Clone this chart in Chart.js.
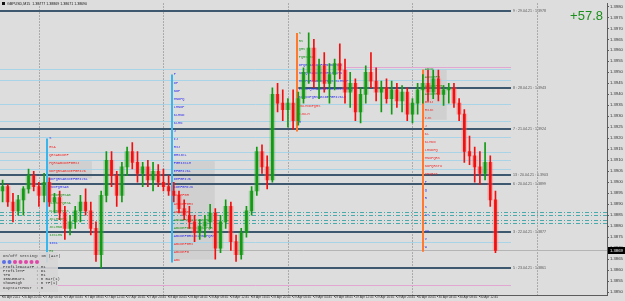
<!DOCTYPE html>
<html lang="en">
<head>
<meta charset="UTF-8">
<title>GBPUSD,M15</title>
<script src="https://cdn.jsdelivr.net/npm/chart.js"></script>
<style>
  html, body { margin: 0; padding: 0; background: #dddddd; }
  canvas { display: block; }
</style>
</head>
<body>
<canvas id="chart" width="625" height="301"></canvas>
<script>
// hourly candles, 26 Apr 16:45 .. 30 Apr 15:45
const opens = [
  1.3896,1.3898,1.3891,1.3887,1.3892,1.3897,1.3903,1.3898,1.3894,1.3900,
  1.3891,1.3893,1.3886,1.3879,1.3882,1.3887,1.3891,1.3887,1.3879,1.3867,
  1.3894,1.3910,1.3903,1.3894,1.3907,1.3914,1.3909,1.3904,1.3907,1.3901,
  1.3905,1.3900,1.3898,1.3896,1.3894,1.3888,1.3885,1.3882,1.3877,1.3880,
  1.3882,1.3886,1.3870,1.3882,1.3889,1.3873,1.3867,1.3877,1.3887,1.3896,
  1.3914,1.3907,1.3901,1.3940,1.3936,1.3933,1.3936,1.3928,1.3938,1.3950,
  1.3961,1.3946,1.3953,1.3945,1.3949,1.3954,1.3951,1.3941,1.3945,1.3932,
  1.3940,1.3950,1.3946,1.3941,1.3943,1.3938,1.3942,1.3937,1.3941,1.3931,
  1.3936,1.3942,1.3945,1.3941,1.3947,1.3940,1.3942,1.3943,1.3936,1.3931,
  1.3914,1.3912,1.3907,1.3904,1.3909,1.3892
];
const highs = [
  1.3901,1.3899,1.3895,1.3894,1.3898,1.3906,1.3905,1.3900,1.3904,1.3902,
  1.3895,1.3896,1.3889,1.3885,1.3889,1.3894,1.3897,1.3891,1.3882,1.3896,
  1.3914,1.3914,1.3905,1.3909,1.3916,1.3918,1.3914,1.3909,1.3910,1.3909,
  1.3908,1.3906,1.3903,1.3900,1.3896,1.3892,1.3889,1.3885,1.3883,1.3885,
  1.3890,1.3888,1.3885,1.3892,1.3891,1.3876,1.3879,1.3889,1.3898,1.3916,
  1.3917,1.3912,1.3943,1.3945,1.3942,1.3938,1.3942,1.3941,1.3952,1.3968,
  1.3965,1.3956,1.3959,1.3954,1.3956,1.3963,1.3956,1.3950,1.3947,1.3943,
  1.3953,1.3959,1.3952,1.3946,1.3947,1.3946,1.3945,1.3944,1.3943,1.3938,
  1.3945,1.3949,1.3951,1.3951,1.3951,1.3944,1.3945,1.3945,1.3938,1.3933,
  1.3921,1.3916,1.3914,1.3918,1.3912,1.3896
];
const lows = [
  1.3891,1.3889,1.3882,1.3885,1.3885,1.3895,1.3896,1.3889,1.3891,1.3889,
  1.3886,1.3883,1.3874,1.3876,1.3879,1.3882,1.3885,1.3876,1.3864,1.3861,
  1.3891,1.3898,1.3889,1.3891,1.3903,1.3906,1.3900,1.3898,1.3898,1.3896,
  1.3898,1.3896,1.3894,1.3891,1.3886,1.3883,1.3879,1.3873,1.3874,1.3875,
  1.3879,1.3865,1.3868,1.3879,1.3869,1.3864,1.3865,1.3875,1.3885,1.3894,
  1.3904,1.3897,1.3900,1.3932,1.3928,1.3925,1.3924,1.3926,1.3936,1.3945,
  1.3943,1.3938,1.3941,1.3936,1.3942,1.3947,1.3936,1.3934,1.3928,1.3927,
  1.3936,1.3943,1.3937,1.3932,1.3936,1.3931,1.3934,1.3932,1.3928,1.3927,
  1.3931,1.3936,1.3937,1.3938,1.3937,1.3935,1.3936,1.3934,1.3928,1.3909,
  1.3908,1.3900,1.3899,1.3901,1.3889,1.3868
];
const closes = [
  1.3898,1.3891,1.3887,1.3892,1.3897,1.3903,1.3898,1.3894,1.3900,1.3891,
  1.3893,1.3886,1.3879,1.3882,1.3887,1.3891,1.3887,1.3879,1.3867,1.3894,
  1.3910,1.3903,1.3894,1.3907,1.3914,1.3909,1.3904,1.3907,1.3901,1.3905,
  1.3900,1.3898,1.3896,1.3894,1.3888,1.3885,1.3882,1.3877,1.3880,1.3882,
  1.3886,1.3870,1.3882,1.3889,1.3873,1.3867,1.3877,1.3887,1.3896,1.3914,
  1.3907,1.3901,1.3940,1.3936,1.3933,1.3936,1.3928,1.3938,1.3950,1.3961,
  1.3946,1.3953,1.3945,1.3949,1.3954,1.3951,1.3941,1.3945,1.3932,1.3940,
  1.3950,1.3946,1.3941,1.3943,1.3938,1.3942,1.3937,1.3941,1.3931,1.3936,
  1.3942,1.3945,1.3941,1.3947,1.3940,1.3942,1.3943,1.3936,1.3931,1.3914,
  1.3912,1.3907,1.3904,1.3909,1.3892,1.3869
];

const timeTicks = [
  "26 Apr 2021","26 Apr 20:45","27 Apr 00:45","27 Apr 04:45","27 Apr 08:45","27 Apr 12:45",
  "27 Apr 16:45","27 Apr 20:45","28 Apr 00:45","28 Apr 04:45","28 Apr 08:45","28 Apr 12:45",
  "28 Apr 16:45","28 Apr 20:45","29 Apr 00:45","29 Apr 04:45","29 Apr 08:45","29 Apr 12:45",
  "29 Apr 16:45","29 Apr 20:45","30 Apr 00:45","30 Apr 04:45","30 Apr 08:45","30 Apr 12:45"
];
const priceTicks = [
  1.3980,1.3975,1.3970,1.3965,1.3960,1.3955,1.3950,1.3945,1.3940,1.3935,1.3930,1.3925,1.3920,
  1.3915,1.3910,1.3905,1.3900,1.3895,1.3890,1.3885,1.3880,1.3875,1.3870,1.3865,1.3860,1.3855,1.3850
];
const currentPrice = 1.3869;

// levels drawn by the indicators
const darkLevels = [1.39777, 1.39428, 1.39244, 1.39033, 1.38993, 1.38774, 1.38612];
const darkLabels = ["9 : 29.04.21 : 1.3978", "8 : 28.04.21 : 1.3943", "7 : 21.04.21 : 1.3924",
                    "13 : 20.04.21 : 1.3903", "6 : 20.04.21 : 1.3899", "3 : 22.04.21 : 1.3877",
                    "5 : 23.04.21 : 1.3861"];
const darkFrom = [0, 57, 0, 0, 0, 0, 0];
const lightLevels = [1.39517, 1.39464, 1.39356, 1.39280, 1.39204, 1.39137, 1.39101, 1.39060, 1.38729];
const dashLevels = [1.38863, 1.38852, 1.38827, 1.38816];
const pinkLevels = [1.38532, 1.39526];
const pinkFrom = [0, 66];
const daySeps = [7, 31, 55, 79, 103];

// market profile sessions
const profileAt = [8.6, 32.6, 56.7, 81];
const profileHigh = [1.39199, 1.39490, 1.39679, 1.39513];
const profileLow = [1.38635, 1.38635, 1.39231, 1.38684];
const boxFrom = [8.7, 32.8, 81];
const boxTo = [17.2, 40.9, 85.6];
const boxHigh = [1.39096, 1.39096, 1.39513];
const boxLow = [1.39016, 1.38648, 1.39284];
const tpoRows = [
  ["S","RSA","QRSABCDEF","PQRSABCDEFGHIJ","NOPQRSABCDEFGHIJK","NOPQRSABCDEFGHIJKL","MNOPQRSAB",
   "LMNOPQRSAB","KLMNOPQRSA","KLMNOPQRS","JKLMNOPQ","JKLMNO","IJKLMN","IJKL","HI","GH","F"],
  ["P","OP","NOP","MNOPQ","LMNOP","KLMNO","KLMN","J","IJ","HIJ","GHIJKL","FGHIJKLM","EFGHIJKL",
   "DEFGHIJK","CDEFGHIJK","BCDEFGH","ABCDEFGHI","ABCDEFG","ABCDEFGHIJKLMNOPQ","ABCDEFGHIJKLMNOPQR",
   "ABCDEFGHIJKLMNOPQRS","ABCDEFGHI","ABCDEFG","ABC"],
  ["S","RS","QRS","PQRSABC","OPQRSABCDEFGHIJKLMNO","NOPQRSABCDEFGHIJKLMN","MNOPQRSABCDEFGHIJKLMNOP",
   "LMNOPQRSABCDEFGHIJKLMNOPQ","KLMNOPQRSABCDEFGHIJKLM","JKLMNOPQRS","IJKLM","H"],
  ["ABCD","ABCDEFG","ABCDEFGHI","ABCDEF","GHIJ","HIJK","IJK","J","KL","KLMNO","LMNOPQ","MNOPQRS",
   "NOPQRSTU","OPQRST","P","Q","R","S","ST","T","UV","V","W"]
];
const tpoColors = [
  "bRRRRbbggggggbgRRRR",
  "bbbbbbbbbbbbbbbRRRggbRRR",
  "ggggbbbbbRRb",
  "ggggRRRRRRRRRRbbbbbbbbb"
];

const panelKeys = ["ProfileDataTF", "ProfileTF", "TPO", "IBNumBars", "ShowHigh", "DayStartHour"];
const panelVals = ["M1", "D1", "M1", "0 Bar(1)", "0 TF(1)", "0"];

const BULL = '#139a13', BEAR = '#f20f0f';
const up = opens.map((o, i) => closes[i] >= o);
const labels = [];
for (let i = 0; i < opens.length + 21; i++) labels.push(String(i));

const colorOf = { b: '#2b2bee', R: '#ee2a2a', g: '#1f951f' };

function hline(c, x0, x1, py, color, w, dash) {
  c.beginPath();
  c.strokeStyle = color;
  c.lineWidth = w;
  c.setLineDash(dash || []);
  const yy = Math.round(py) + (w % 2 ? 0.5 : 0);
  c.moveTo(x0, yy);
  c.lineTo(x1, yy);
  c.stroke();
}
function vline(c, px, y0, y1, color, w, dash) {
  c.beginPath();
  c.strokeStyle = color;
  c.lineWidth = w;
  c.setLineDash(dash || []);
  const xx = Math.round(px) + (w % 2 ? 0.5 : 0);
  c.moveTo(xx, y0);
  c.lineTo(xx, y1);
  c.stroke();
}

const overlay = {
  id: 'overlay',
  beforeDraw(chart) {
    const c = chart.ctx;
    c.save();
    c.fillStyle = '#dddddd';
    c.fillRect(0, 0, chart.width, chart.height);
    c.restore();
  },
  beforeDatasetsDraw(chart) {
    const { ctx: c, chartArea: a, scales: { x, y } } = chart;
    const lineEnd = x.getPixelForValue(98);
    c.save();

    // value area boxes
    c.fillStyle = 'rgba(0,0,0,0.06)';
    boxFrom.forEach((f, i) => {
      const x0 = x.getPixelForValue(f), x1 = x.getPixelForValue(boxTo[i]);
      const y0 = y.getPixelForValue(boxHigh[i]), y1 = y.getPixelForValue(boxLow[i]);
      c.fillRect(x0, y0, x1 - x0, y1 - y0);
    });

    // day separators
    daySeps.forEach(d => vline(c, x.getPixelForValue(d), a.top, a.bottom, '#7a7a7a', 1, [1, 2]));

    lightLevels.forEach(p => hline(c, a.left, lineEnd, y.getPixelForValue(p), '#a9d3e6', 1));
    pinkLevels.forEach((p, i) => hline(c, x.getPixelForValue(pinkFrom[i]) - (pinkFrom[i] ? 0 : 3), lineEnd, y.getPixelForValue(p), '#e2a6d2', 1));
    dashLevels.forEach(p => hline(c, a.left, a.right, y.getPixelForValue(p), '#4aa9aa', 1, [4, 2, 1, 2]));
    hline(c, a.left, a.right, y.getPixelForValue(currentPrice), '#b4b4b4', 1);
    darkLevels.forEach((p, i) => hline(c, darkFrom[i] ? x.getPixelForValue(darkFrom[i]) : a.left, lineEnd, y.getPixelForValue(p), '#3e5870', 2));

    // profile start lines
    profileAt.forEach((v, i) => {
      vline(c, x.getPixelForValue(v), y.getPixelForValue(profileHigh[i]), y.getPixelForValue(profileLow[i]),
            i < 2 ? '#39b6ec' : '#ff7a2e', 2);
    });

    // TPO letters
    c.font = '3.6px "Liberation Mono"';
    c.textBaseline = 'middle';
    c.textAlign = 'left';
    const rowStep = 0.000367;
    tpoRows.forEach((rows, k) => {
      const px = x.getPixelForValue(profileAt[k]) + 2;
      rows.forEach((s, r) => {
        c.fillStyle = colorOf[tpoColors[k][r]] || '#2b2bee';
        c.fillText(s, px, y.getPixelForValue(profileHigh[k] - r * rowStep));
      });
    });

    // level captions
    c.font = '3.6px "Liberation Sans"';
    c.fillStyle = '#555';
    darkLevels.forEach((p, i) => c.fillText(darkLabels[i], lineEnd + 2, y.getPixelForValue(p)));
    c.restore();
  },
  afterDraw(chart) {
    const { ctx: c, chartArea: a, scales: { x, y } } = chart;
    c.save();
    // small marks on the time axis, one per label
    c.strokeStyle = '#5c5c5c';
    c.lineWidth = 1;
    timeTicks.forEach((t, i) => {
      const px = Math.round(x.getPixelForValue(i * 4)) - 0.5;
      c.beginPath();
      c.moveTo(px, a.bottom);
      c.lineTo(px, a.bottom + 2);
      c.stroke();
    });

    // title
    c.fillStyle = '#111';
    c.fillRect(2, 2, 3, 3);
    c.font = '3.6px "Liberation Sans"';
    c.textBaseline = 'middle';
    c.fillText('GBPUSD,M15  1.38777 1.38869 1.38671 1.38690', 7, 4);

    // profit label
    c.font = '13px "Liberation Sans"';
    c.textAlign = 'right';
    c.textBaseline = 'alphabetic';
    c.fillStyle = '#1b8f1b';
    c.fillText('+57.8', 603, 20);

    // current price marker on axis
    const py = Math.round(y.getPixelForValue(currentPrice));
    c.fillStyle = '#000';
    c.fillRect(a.right + 1, py - 3, 18, 7);
    c.fillStyle = '#fff';
    c.font = '4.2px "Liberation Sans"';
    c.textAlign = 'left';
    c.textBaseline = 'middle';
    c.fillText(currentPrice.toFixed(4), a.right + 3, py + 0.5);

    // settings panel
    c.fillStyle = 'rgba(214,214,214,0.9)';
    c.fillRect(0, 252, 58, 40);
    c.fillStyle = '#333';
    c.font = '4px "Liberation Mono"';
    c.fillText('On/Off Setting: On (ALT)', 3, 256);
    ['#5b6fe6', '#5b6fe6', '#e046a8', '#e046a8', '#e046a8', '#e046a8', '#e046a8'].forEach((col, i) => {
      c.beginPath();
      c.fillStyle = col;
      c.arc(4 + i * 5.5, 262, 2, 0, Math.PI * 2);
      c.fill();
    });
    c.fillStyle = '#333';
    panelKeys.forEach((k, i) => {
      c.fillText(k, 3, 267 + i * 4.1);
      c.fillText(': ' + panelVals[i], 36, 267 + i * 4.1);
    });
    c.restore();
  }
};

new Chart(document.getElementById('chart'), {
  type: 'bar',
  data: {
    labels: labels,
    datasets: [
      {
        data: lows.map((l, i) => [l, highs[i]]),
        backgroundColor: up.map(u => u ? BULL : BEAR),
        barThickness: 1,
        grouped: false,
        order: 3
      },
      {
        data: opens.map((o, i) => [o, closes[i]]),
        backgroundColor: up.map(u => u ? 'rgba(70,170,70,0.35)' : 'rgba(255,110,110,0.35)'),
        barThickness: 5,
        grouped: false,
        order: 2
      },
      {
        data: opens.map((o, i) => [o, closes[i]]),
        backgroundColor: up.map(u => u ? BULL : BEAR),
        barThickness: 2,
        minBarLength: 1,
        grouped: false,
        order: 1
      }
    ]
  },
  options: {
    responsive: false,
    animation: false,
    devicePixelRatio: 1,
    layout: { padding: 0 },
    plugins: { legend: { display: false }, tooltip: { enabled: false } },
    scales: {
      x: {
        type: 'category',
        offset: true,
        grid: { display: false, drawTicks: false, tickLength: 0 },
        border: { display: true, color: '#5c5c5c' },
        ticks: {
          autoSkip: false,
          maxRotation: 0,
          minRotation: 0,
          align: 'start',
          padding: 0.5,
          color: '#333',
          font: { family: 'Liberation Sans', size: 3.2 },
          callback: (v, i) => (i % 4 === 0 && timeTicks[i / 4]) ? timeTicks[i / 4] : ''
        },
        afterFit: s => { s.height = 6; }
      },
      y: {
        position: 'right',
        min: 1.38487,
        max: 1.39813,
        grid: { drawOnChartArea: false, tickLength: 2, color: '#5c5c5c' },
        border: { display: true, color: '#5c5c5c' },
        ticks: {
          padding: 1,
          color: '#333',
          font: { family: 'Liberation Sans', size: 4.2 },
          callback: v => Number(v).toFixed(4)
        },
        afterBuildTicks: s => { s.ticks = priceTicks.map(v => ({ value: v })); },
        afterFit: s => { s.width = 18; }
      }
    }
  },
  plugins: [overlay]
});
</script>
</body>
</html>
